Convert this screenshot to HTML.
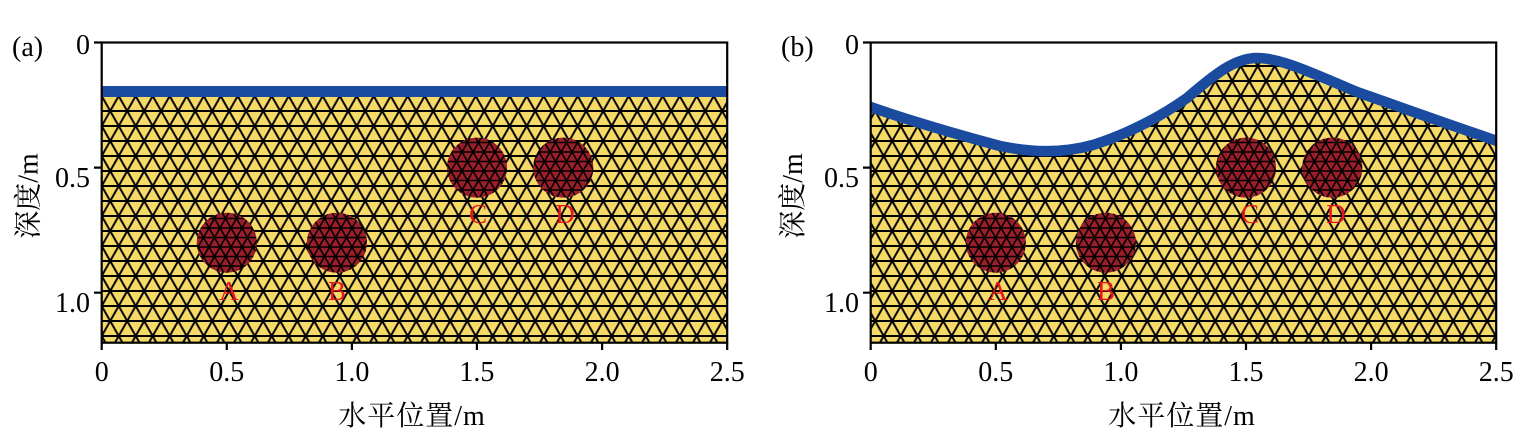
<!DOCTYPE html>
<html><head><meta charset="utf-8"><style>
html,body{margin:0;padding:0;background:#fff;}
svg{display:block;}
text{font-family:"Liberation Serif","Noto Serif CJK SC",serif;}
</style></head><body>
<svg width="1535" height="446" viewBox="0 0 1535 446" xmlns="http://www.w3.org/2000/svg">
<defs>
<pattern id="m" patternUnits="userSpaceOnUse" width="17" height="30" x="101.7" y="96">
<path d="M0 0H17M0 15H17M0 30H17M0 0L17 30M-17 0L0 30M17 0L34 30M17 0L0 30M0 0L-17 30M34 0L17 30" stroke="#000" stroke-width="2.0" fill="none"/>
</pattern>
<pattern id="f" patternUnits="userSpaceOnUse" width="11" height="19" x="0" y="0">
<path d="M0 0H11M0 9.5H11M0 19H11M0 0L11 19M-11 0L0 19M11 0L22 19M11 0L0 19M0 0L-11 19M22 0L11 19" stroke="#000" stroke-width="1.6" fill="none"/>
</pattern>
<clipPath id="ca"><rect x="101.7" y="42.5" width="625.5" height="300.2"/></clipPath>
<clipPath id="cb"><rect x="870.7" y="42.5" width="625.5" height="300.2"/></clipPath>
</defs>

<!-- Panel a -->
<g clip-path="url(#ca)">
<rect x="101.7" y="96" width="625.5" height="247" fill="#f6da68"/>
<rect x="101.7" y="96" width="625.5" height="247" fill="url(#m)"/>
<g fill="#9d1e2b">
<circle cx="226.8" cy="242.7" r="30"/>
<circle cx="336.9" cy="242.7" r="30"/>
<circle cx="477" cy="167.6" r="30"/>
<circle cx="563.3" cy="167.6" r="30"/>
</g>
<g fill="url(#f)">
<circle cx="226.8" cy="242.7" r="30"/>
<circle cx="336.9" cy="242.7" r="30"/>
<circle cx="477" cy="167.6" r="30"/>
<circle cx="563.3" cy="167.6" r="30"/>
</g>
<rect x="101.7" y="86" width="625.5" height="11" fill="#1b4b9f"/>
</g>
<g fill="#e8141c" font-size="27" text-anchor="middle">
<text x="229" y="300">A</text>
<text x="337" y="300">B</text>
<text x="478" y="223">C</text>
<text x="565" y="223">D</text>
</g>
<rect x="101.7" y="42.5" width="625.5" height="300.2" fill="none" stroke="#000" stroke-width="2.2"/>
<g stroke="#000" stroke-width="2.2">
<path d="M94 42.5H101.7M94 167.6H101.7M94 292.7H101.7"/>
<path d="M101.7 342.7V350M226.8 342.7V350M351.9 342.7V350M476.9 342.7V350M602.1 342.7V350M727.2 342.7V350"/>
</g>
<g font-size="28" fill="#000">
<text x="12" y="56">(a)</text>
<g text-anchor="end">
<text x="90" y="54">0</text>
<text x="90" y="187">0.5</text>
<text x="90" y="312">1.0</text>
</g>
<g text-anchor="middle">
<text x="101.7" y="381">0</text>
<text x="226.8" y="381">0.5</text>
<text x="351.9" y="381">1.0</text>
<text x="476.9" y="381">1.5</text>
<text x="602.1" y="381">2.0</text>
<text x="727.2" y="381">2.5</text>
<text x="412" y="425" letter-spacing="1">水平位置/m</text>
</g>
<text transform="translate(27.5,196) rotate(-90)" text-anchor="middle" y="10">深度/m</text>
</g>

<!-- Panel b -->
<g clip-path="url(#cb)">
<path id="soilb" d="M865 105 C890 114, 940 130, 1000 146 C1030 152, 1060 154, 1093 145 C1127 134, 1160 117, 1187 98 C1215 74, 1235 58, 1257 58 C1280 58, 1310 72, 1357 92 C1400 107, 1450 125, 1503 143 L1503 345 L865 345 Z" fill="#f6da68"/>
<path d="M865 105 C890 114, 940 130, 1000 146 C1030 152, 1060 154, 1093 145 C1127 134, 1160 117, 1187 98 C1215 74, 1235 58, 1257 58 C1280 58, 1310 72, 1357 92 C1400 107, 1450 125, 1503 143 L1503 345 L865 345 Z" fill="url(#m)"/>
<g fill="#9d1e2b">
<circle cx="995.8" cy="242.7" r="30"/>
<circle cx="1105.9" cy="242.7" r="30"/>
<circle cx="1246" cy="167.6" r="30"/>
<circle cx="1332.3" cy="167.6" r="30"/>
</g>
<g fill="url(#f)">
<circle cx="995.8" cy="242.7" r="30"/>
<circle cx="1105.9" cy="242.7" r="30"/>
<circle cx="1246" cy="167.6" r="30"/>
<circle cx="1332.3" cy="167.6" r="30"/>
</g>
<path d="M865 105 C890 114, 940 130, 1000 146 C1030 152, 1060 154, 1093 145 C1127 134, 1160 117, 1187 98 C1215 74, 1235 58, 1257 58 C1280 58, 1310 72, 1357 92 C1400 107, 1450 125, 1503 143" fill="none" stroke="#1b4b9f" stroke-width="10.5"/>
</g>
<g fill="#e8141c" font-size="27" text-anchor="middle">
<text x="998" y="300">A</text>
<text x="1106" y="300">B</text>
<text x="1250" y="223">C</text>
<text x="1336" y="223">D</text>
</g>
<rect x="870.7" y="42.5" width="625.5" height="300.2" fill="none" stroke="#000" stroke-width="2.2"/>
<g stroke="#000" stroke-width="2.2">
<path d="M863 42.5H870.7M863 167.6H870.7M863 292.7H870.7"/>
<path d="M870.7 342.7V350M995.8 342.7V350M1120.9 342.7V350M1246 342.7V350M1371.1 342.7V350M1496.2 342.7V350"/>
</g>
<g font-size="28" fill="#000">
<text x="781" y="56">(b)</text>
<g text-anchor="end">
<text x="859" y="54">0</text>
<text x="859" y="187">0.5</text>
<text x="859" y="312">1.0</text>
</g>
<g text-anchor="middle">
<text x="870.7" y="381">0</text>
<text x="995.8" y="381">0.5</text>
<text x="1120.9" y="381">1.0</text>
<text x="1246" y="381">1.5</text>
<text x="1371.1" y="381">2.0</text>
<text x="1496.2" y="381">2.5</text>
<text x="1182" y="425" letter-spacing="1">水平位置/m</text>
</g>
<text transform="translate(792,196) rotate(-90)" text-anchor="middle" y="10">深度/m</text>
</g>
</svg>
</body></html>
